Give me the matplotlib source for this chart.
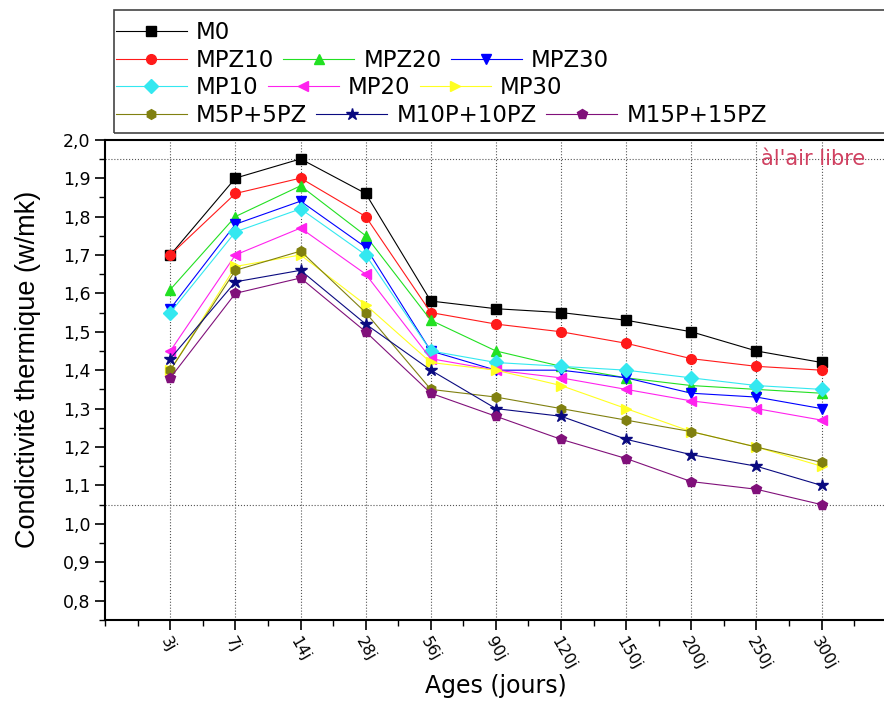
import matplotlib
matplotlib.use('Agg')
import matplotlib.pyplot as plt
from matplotlib.patches import Rectangle
from matplotlib.ticker import MultipleLocator

# ages (categories on the x axis)
ages = ['3j', '7j', '14j', '28j', '56j', '90j', '120j', '150j', '200j', '250j', '300j']

# thermal conductivity values (w/mk)
m0 = [1.70, 1.90, 1.95, 1.86, 1.58, 1.56, 1.55, 1.53, 1.50, 1.45, 1.42]
mpz10 = [1.70, 1.86, 1.90, 1.80, 1.55, 1.52, 1.50, 1.47, 1.43, 1.41, 1.40]
mpz20 = [1.61, 1.80, 1.88, 1.75, 1.53, 1.45, 1.41, 1.38, 1.36, 1.35, 1.34]
mpz30 = [1.56, 1.78, 1.84, 1.72, 1.45, 1.40, 1.40, 1.38, 1.34, 1.33, 1.30]
mp10 = [1.55, 1.76, 1.82, 1.70, 1.45, 1.42, 1.41, 1.40, 1.38, 1.36, 1.35]
mp20 = [1.45, 1.70, 1.77, 1.65, 1.43, 1.40, 1.38, 1.35, 1.32, 1.30, 1.27]
mp30 = [1.40, 1.67, 1.70, 1.57, 1.42, 1.40, 1.36, 1.30, 1.24, 1.20, 1.15]
m5p5pz = [1.40, 1.66, 1.71, 1.55, 1.35, 1.33, 1.30, 1.27, 1.24, 1.20, 1.16]
m10p10pz = [1.43, 1.63, 1.66, 1.52, 1.40, 1.30, 1.28, 1.22, 1.18, 1.15, 1.10]
m15p15pz = [1.38, 1.60, 1.64, 1.50, 1.34, 1.28, 1.22, 1.17, 1.11, 1.09, 1.05]

series = [
    ('M0', m0, '#000000', 's'),
    ('MPZ10', mpz10, '#ff1a1a', 'o'),
    ('MPZ20', mpz20, '#22e022', '^'),
    ('MPZ30', mpz30, '#0000ff', 'v'),
    ('MP10', mp10, '#33e8f0', 'D'),
    ('MP20', mp20, '#ff22ee', '<'),
    ('MP30', mp30, '#ffff22', '>'),
    ('M5P+5PZ', m5p5pz, '#808010', 'h'),
    ('M10P+10PZ', m10p10pz, '#0a0a80', '*'),
    ('M15P+15PZ', m15p15pz, '#80107a', 'p'),
]

# legend rows as in the original (entries flow left to right)
legend_rows = [
    ['M0'],
    ['MPZ10', 'MPZ20', 'MPZ30'],
    ['MP10', 'MP20', 'MP30'],
    ['M5P+5PZ', 'M10P+10PZ', 'M15P+15PZ'],
]

plt.rcParams['font.family'] = ['DejaVu Sans']

fig = plt.figure(figsize=(8.84, 7.02), dpi=100)
# right edge of the frame falls just outside the picture, as in the original
ax = fig.add_axes([0.119, 0.117, 0.884, 0.684])

x = list(range(1, len(ages) + 1))
handles = {}
for name, vals, col, mk in series:
    size = 9 if mk == '*' else 7
    h, = ax.plot(x, vals, color=col, marker=mk, markersize=size, lw=0.8,
                 markeredgecolor=col, label=name)
    handles[name] = h

# reference lines
for yv in (1.95, 1.05):
    ax.axhline(yv, color='#555555', ls=':', lw=0.8, zorder=0)
for xv in x:
    ax.axvline(xv, color='#555555', ls=':', lw=0.8, zorder=0)

ax.text(0.973, 0.96, "àl'air libre", transform=ax.transAxes, color='#d04060',
        fontsize=15, ha='right', va='center')

ax.set_xlim(0, 12)
ax.set_ylim(0.75, 2.0)
ax.set_xticks(x)
ax.set_xticklabels(ages, rotation=-60, ha='left', va='top', rotation_mode='anchor',
                   fontsize=11.5)
ax.xaxis.set_minor_locator(MultipleLocator(0.5))
ax.yaxis.set_minor_locator(MultipleLocator(0.05))
yt = [0.8, 0.9, 1.0, 1.1, 1.2, 1.3, 1.4, 1.5, 1.6, 1.7, 1.8, 1.9, 2.0]
ax.set_yticks(yt)
ax.set_yticklabels([f'{v:.1f}'.replace('.', ',') for v in yt], fontsize=12.5)
ax.tick_params(which='major', direction='out', length=7, width=1.2)
ax.tick_params(which='minor', direction='out', length=4, width=1.0)
for s in ax.spines.values():
    s.set_linewidth(1.5)

ax.set_xlabel('Ages (jours)', fontsize=17, va='center')
ax.xaxis.set_label_coords(0.5, -0.138)
ax.set_ylabel('Condictivité thermique (w/mk)', fontsize=19.5,
              family=['Liberation Sans', 'DejaVu Sans'], va='center')
ax.yaxis.set_label_coords(-0.099, 0.521)

# legend frame, open on the right like the original
fig.patches.append(Rectangle((0.129, 0.8105), 0.95, 0.175, transform=fig.transFigure,
                             fill=False, edgecolor='#444444', lw=1.2))
row_y = [0.954, 0.9145, 0.876, 0.836]
for names, yc in zip(legend_rows, row_y):
    lg = fig.legend([handles[n] for n in names], names, ncol=len(names),
                    loc='center left', bbox_to_anchor=(0.131, yc), fontsize=16.5,
                    frameon=False, handlelength=3.1, handletextpad=0.4,
                    columnspacing=0.4, borderpad=0.0, borderaxespad=0.0)

fig.savefig('out.png', dpi=100)
plt.close(fig)
